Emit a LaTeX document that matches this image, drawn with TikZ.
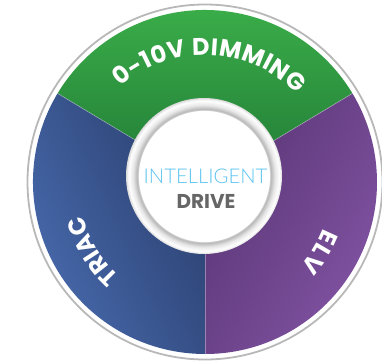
\documentclass[tikz,border=0pt]{standalone}
\usepackage{fontspec}
\usetikzlibrary{decorations.text}
\newfontfamily\poppins{Poppins}
\IfFontExistsTF{Lato Light}{\newfontfamily\lato{Lato Light}}{\newfontfamily\lato{Lato}}
\definecolor{greentop}{HTML}{3DB34B}
\definecolor{greenbot}{HTML}{217A36}
\definecolor{bluelight}{HTML}{4A6DB2}
\definecolor{bluedark}{HTML}{2B406F}
\definecolor{purpledark}{HTML}{5A3676}
\definecolor{purplelight}{HTML}{8153A2}
\definecolor{ringgray}{HTML}{B8B8B8}
\definecolor{intelblue}{HTML}{5CC4F0}
\definecolor{drivegray}{HTML}{666666}
\pgfdeclareradialshading{hubshade}{\pgfpoint{0bp}{0bp}}{color(0bp)=(white); color(21bp)=(white); color(21.3bp)=(black!30); color(22.8bp)=(black!9); color(24.2bp)=(white); color(25bp)=(black!15); color(50bp)=(black!15)}
\newcommand\segfont{\poppins\bfseries\fontsize{24}{28}\selectfont}
\tikzstyle{divider} = [white, opacity=0.35, line width=0.7pt]
\tikzstyle{arclabel} = [decorate, decoration={text along path, text color=white, text align={fit to path}}]
\tikzstyle{hubtext} = [inner sep=0pt, anchor=base]

\begin{document}
\begin{tikzpicture}[x=1pt, y=1pt]
    \useasboundingbox (-205,-180) rectangle (177,182);
    \clip (-205,-180) rectangle (177,182);
    \shade[top color=greentop, bottom color=greenbot] (0,0) -- (31:172) arc[start angle=31, end angle=149, radius=172] -- cycle;
    \shade[left color=bluelight, right color=bluedark, shading angle=115] (0,0) -- (149:172) arc[start angle=149, end angle=270, radius=172] -- cycle;
    \shade[left color=purpledark, right color=purplelight, shading angle=60] (0,0) -- (270:172) arc[start angle=270, end angle=391, radius=172] -- cycle;
    \draw[divider] (0,0) -- (31:172);
    \draw[divider] (0,0) -- (149:172);
    \draw[divider] (0,0) -- (270:172);
    \draw[ringgray, line width=1.8pt] (0,0) circle[radius=177.5];
    \shade[shading=hubshade] (-1,6) circle[radius=78];
    \path[arclabel, decoration={text={|\segfont|0-10V DIMMING}}] (131.7:127) arc[start angle=131.7, end angle=43.8, radius=127];
    \path[arclabel, decoration={text={|\segfont|TRIAC}}] (228:127) arc[start angle=228, end angle=195.5, radius=127];
    \path[arclabel, decoration={text={|\segfont|ELV}}] (338.5:127) arc[start angle=338.5, end angle=318.5, radius=127];
    \node[hubtext, text=intelblue, font=\lato\fontsize{20.3}{23}\selectfont] (intel) at (0.5,-1) {INTELLIGENT};
    \node[hubtext, text=drivegray, font=\poppins\bfseries\fontsize{20}{22}\selectfont] (drive) at (1,-26) {DRIVE};
\end{tikzpicture}
\end{document}
